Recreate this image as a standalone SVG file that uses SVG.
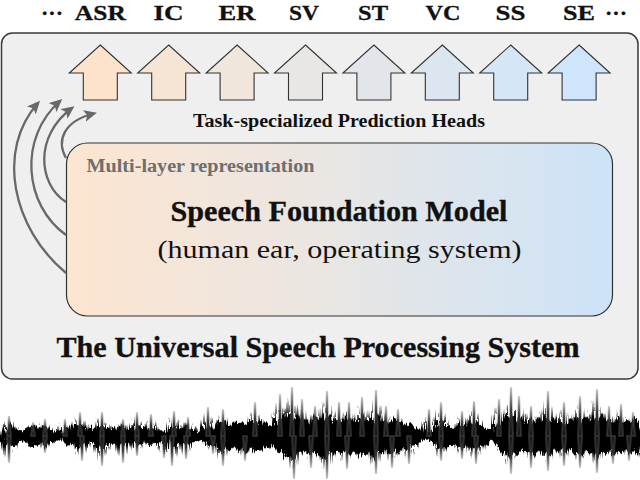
<svg xmlns="http://www.w3.org/2000/svg" width="640" height="480" viewBox="0 0 640 480">
<style>
.lbl{font-family:"Liberation Serif","Times New Roman",serif;font-weight:bold;font-size:22px;fill:#111;text-anchor:middle;stroke:#111;stroke-width:0.3}
.head{stroke:#333;stroke-width:1.1}
.curve{fill:none;stroke:#686868;stroke-width:2.3}
.serif{font-family:"Liberation Serif","Times New Roman",serif;text-anchor:middle}
.heavy{stroke:#111;stroke-width:0.35}
</style>
<defs>
<linearGradient id="fm" x1="0" y1="0" x2="1" y2="0">
<stop offset="0" stop-color="#fde5d0"/>
<stop offset="0.5" stop-color="#e8e6e4"/>
<stop offset="1" stop-color="#cde3f8"/>
</linearGradient>
<path id="up" d="M0,45 L31,73 H17 V100 H-17 V73 H-31 Z"/>
<marker id="ah" markerUnits="userSpaceOnUse" markerWidth="14" markerHeight="12" viewBox="0 0 14 12" refX="10" refY="6" orient="auto">
<path d="M0,0 L13,6 L0,12 L3,6 Z" fill="#686868"/>
</marker>
<filter id="rough" x="-2%" y="-30%" width="104%" height="160%">
<feTurbulence type="fractalNoise" baseFrequency="0.9 0.06" numOctaves="2" seed="7" result="n"/>
<feDisplacementMap in="SourceGraphic" in2="n" scale="7" xChannelSelector="R" yChannelSelector="G"/>
</filter>
<path id="spk" d="M7,436L9,417L11,436Z M31,436L33,423L35,436Z M43,436L45,420L47,436Z M63,436L65,420L67,436Z M78,436L80,413L82,436Z M100,436L102,413L104,436Z M121,436L123,420L125,436Z M135,436L137,413L139,436Z M149,436L151,415L153,436Z M172,436L174,412L176,436Z M186,436L188,418L190,436Z M206,436L208,408L210,436Z M221,436L223,410L225,436Z M253,436L255,403L257,436Z M278,436L280,395L282,436Z M290,436L292,388L294,436Z M300,436L302,400L304,436Z M313,436L315,407L317,436Z M325,436L327,392L329,436Z M337,436L339,403L341,436Z M347,436L349,403L351,436Z M360,436L362,398L364,436Z M374,436L376,391L378,436Z M384,436L386,407L388,436Z M396,436L398,410L400,436Z M427,436L429,410L431,436Z M439,436L441,403L443,436Z M460,436L462,412L464,436Z M472,436L474,402L476,436Z M497,436L499,400L501,436Z M509,436L511,388L513,436Z M517,436L519,397L521,436Z M529,436L531,407L533,436Z M546,436L548,392L550,436Z M562,436L564,403L566,436Z M578,436L580,397L582,436Z M595,436L597,390L599,436Z M607,436L609,407L611,436Z M619,436L621,405L623,436Z M631,436L633,413L635,436Z M7,436L9,462L11,436Z M43,436L45,452L47,436Z M80,436L82,460L84,436Z M100,436L102,465L104,436Z M121,436L123,462L125,436Z M135,436L137,455L139,436Z M162,436L164,457L166,436Z M170,436L172,465L174,436Z M184,436L186,458L188,436Z M211,436L213,453L215,436Z M221,436L223,465L225,436Z M243,436L245,460L247,436Z M292,436L294,478L296,436Z M309,436L311,467L313,436Z M325,436L327,478L329,436Z M345,436L347,468L349,436Z M374,436L376,473L378,436Z M390,436L392,467L394,436Z M407,436L409,463L411,436Z M439,436L441,460L443,436Z M460,436L462,458L464,436Z M474,436L476,463L478,436Z M509,436L511,473L513,436Z M529,436L531,467L533,436Z M546,436L548,470L550,436Z M562,436L564,465L566,436Z M578,436L580,467L582,436Z M595,436L597,472L599,436Z M611,436L613,463L615,436Z M627,436L629,460L631,436Z"/>
</defs>

<g id="top-labels">
<text class="lbl" x="52" y="20">···</text>
<text class="lbl" x="100.3" y="20" textLength="51" lengthAdjust="spacingAndGlyphs">ASR</text>
<text class="lbl" x="168.5" y="20" textLength="30" lengthAdjust="spacingAndGlyphs">IC</text>
<text class="lbl" x="237" y="20" textLength="37" lengthAdjust="spacingAndGlyphs">ER</text>
<text class="lbl" x="304" y="20" textLength="30" lengthAdjust="spacingAndGlyphs">SV</text>
<text class="lbl" x="373" y="20" textLength="30" lengthAdjust="spacingAndGlyphs">ST</text>
<text class="lbl" x="443" y="20" textLength="35" lengthAdjust="spacingAndGlyphs">VC</text>
<text class="lbl" x="510.5" y="20" textLength="30" lengthAdjust="spacingAndGlyphs">SS</text>
<text class="lbl" x="579" y="20" textLength="32" lengthAdjust="spacingAndGlyphs">SE</text>
<text class="lbl" x="616" y="20">···</text>
</g>

<g id="system">
<rect x="1.5" y="33" width="636.5" height="346" rx="11" fill="#efefef" stroke="#3a3a3a" stroke-width="1.5"/>
<text class="serif heavy" x="318" y="357" font-size="30" font-weight="bold" fill="#111" textLength="523" lengthAdjust="spacingAndGlyphs">The Universal Speech Processing System</text>
</g>

<g id="heads">
<g id="head-asr"><use href="#up" x="100.3" fill="#fde3cc" class="head"/></g>
<g id="head-ic"><use href="#up" x="168.7" fill="#f6e4d5" class="head"/></g>
<g id="head-er"><use href="#up" x="237.1" fill="#f1e6db" class="head"/></g>
<g id="head-sv"><use href="#up" x="305.5" fill="#e8e7e4" class="head"/></g>
<g id="head-st"><use href="#up" x="373.9" fill="#e2e6ea" class="head"/></g>
<g id="head-vc"><use href="#up" x="442.3" fill="#dce6f0" class="head"/></g>
<g id="head-ss"><use href="#up" x="510.7" fill="#d6e6f6" class="head"/></g>
<g id="head-se"><use href="#up" x="579.1" fill="#cfe5fb" class="head"/></g>
<text class="serif" x="339" y="127" font-size="18" font-weight="bold" fill="#111" textLength="292" lengthAdjust="spacingAndGlyphs">Task-specialized Prediction Heads</text>
</g>

<g id="foundation">
<rect x="66.5" y="143" width="546" height="173" rx="21" fill="url(#fm)" stroke="#333" stroke-width="1.2"/>
<text x="86.5" y="172" font-family="'Liberation Serif','Times New Roman',serif" font-size="18.5" font-weight="bold" fill="#6e6e6e" textLength="228" lengthAdjust="spacingAndGlyphs">Multi-layer representation</text>
<text class="serif heavy" x="339" y="221" font-size="29" font-weight="bold" fill="#111" textLength="337" lengthAdjust="spacingAndGlyphs">Speech Foundation Model</text>
<text class="serif" x="339.5" y="258" font-size="26" fill="#111" textLength="364" lengthAdjust="spacingAndGlyphs">(human ear, operating system)</text>
</g>

<g id="connectors">
<path class="curve" d="M66,273 C12,228 -4,150 38,103" marker-end="url(#ah)"/>
<path class="curve" d="M66,235 C24,205 18,138 60,101" marker-end="url(#ah)"/>
<path class="curve" d="M66,202 C38,184 34,136 72,108" marker-end="url(#ah)"/>
<path class="curve" d="M66,158 C56,140 64,121 94,113.5" marker-end="url(#ah)"/>
</g>

<g id="waveform">
<g filter="url(#rough)">
<path fill="#000" transform="translate(0,-65.4) scale(1,1.15)" d="M2,434 6,433.8 10,424 14,429.2 18,430 22,432.3 26,428.8 30,428.4 34,426 38,430.8 42,426.4 46,427.5 50,430 54,432.3 58,431.2 62,434.3 66,426 70,430.8 74,426.4 78,426.7 82,427 86,431.5 90,427.6 94,430.9 98,427 102,427.8 106,427.6 110,430.9 114,428 118,431.5 122,425.2 126,430 130,431 134,433 138,425.2 142,430 146,431 150,430 154,427.6 158,430.9 162,431 166,433 170,431.2 174,427.5 178,429 182,431.5 186,425.2 190,430 194,431 198,433 202,431.2 206,429.2 210,427 214,430.8 218,421.6 222,424.1 226,423 230,427 234,422.8 238,425 242,424 246,425.5 250,421.6 254,425 258,422 262,427 266,422.8 270,427.5 274,427 278,425.5 282,416.8 286,420.7 290,416 294,421.8 298,416.8 302,424.1 306,421 310,425.5 314,416.8 318,421.6 322,418 326,421.8 330,416.8 334,424.1 338,421 342,425.5 346,416.8 350,421.6 354,421 358,424 362,415.6 366,423.3 370,420 374,422.5 378,415.6 382,424.1 386,423 390,424.8 394,419.2 398,423.3 402,424 406,427.8 410,424 414,429.2 418,430 422,433 426,432.4 430,432.6 434,431 438,428.5 442,421.6 446,427.5 450,427 454,430 458,424 462,426.7 466,427 470,428.5 474,421.6 478,427.5 482,427 486,430 490,428.8 494,433.5 498,424 502,425.5 506,416.8 510,420.7 514,419 518,424.8 522,419.2 526,425 530,420 534,424.8 538,419.2 542,423.3 546,419 550,424 554,419.2 558,425 562,424 566,425.5 570,420.4 574,423.3 578,420 582,423.3 586,418 590,424.1 594,420 598,422.5 602,415.6 606,423.3 610,422 614,424.8 618,416.8 622,424.1 626,423 630,424.8 634,419.2 638,422.4 640,428 640,446 638,453.6 634,447.2 630,453.3 626,447 622,451.4 618,448.8 614,453.3 610,447.9 606,452.5 602,449.6 598,456.7 594,449.6 590,451.4 586,448 582,455.6 578,449.6 574,452.5 570,446.4 566,452.1 562,446.2 558,450.3 554,447.2 550,454.4 546,450.5 542,452.5 538,447.2 534,453.3 530,449.6 526,450.3 522,447.2 518,453.3 514,450.5 510,455.8 506,448.8 502,452.1 498,446.2 494,439.3 490,440.8 486,445.2 482,443.7 478,447 474,445.6 470,447.5 466,443.7 462,448.1 458,444 454,445.2 450,443.7 446,447 442,445.6 438,447.5 434,440.3 430,440.4 426,438.4 422,440.6 418,441.1 414,444.8 410,444 406,448.7 402,446.2 398,452.5 394,447.2 390,453.3 386,447 382,451.4 378,449.6 374,456.7 370,449.6 366,452.5 362,449.6 358,454.4 354,448.8 350,454.7 346,448.8 342,452.1 338,448.8 334,451.4 330,448.8 326,457.9 322,451.3 318,454.7 314,448.8 310,452.1 306,448.8 302,451.4 298,448.8 294,457.9 290,453 286,455.8 282,448.8 278,452.1 274,443.7 270,447 266,444.8 262,449.8 258,447.9 254,450.3 250,445.6 246,452.1 242,446.2 238,450.3 234,444.8 230,449.8 226,447 222,451.4 218,445.6 214,444 210,443.7 206,444.8 202,439.2 198,440.6 194,440.3 190,443.7 186,443.2 182,442.9 178,442 174,447 170,439.2 166,440.6 162,440.3 158,442.6 154,441.6 150,445.2 146,440.3 142,443.7 138,443.2 134,440.6 130,440.3 126,443.7 122,443.2 118,442.9 114,442.8 110,442.6 106,441.6 102,448.7 98,443.7 94,442.6 90,441.6 86,442.9 82,443.7 78,448.1 74,442.4 70,444 66,444.5 62,438.2 58,439.2 54,441.8 50,441.1 46,447 42,442.4 38,444 34,444.5 30,445.9 26,440.8 22,441.8 18,441.1 14,444.8 10,444 6,439.5 2,438Z"/>
<use href="#spk" transform="translate(4,130.8) scale(1,0.7)" fill="#000"/>
<use href="#spk" transform="translate(-4,87.2) scale(1,0.8)" fill="#000"/>
<use href="#spk" transform="translate(8,218) scale(1,0.5)" fill="#000"/>
<use href="#spk" transform="translate(-7,174.4) scale(1,0.6)" fill="#000"/>
</g>
<use href="#spk" fill="#111" stroke="#666" stroke-width="2.2" stroke-opacity="0.4" stroke-linejoin="round"/>
</g>
</svg>
